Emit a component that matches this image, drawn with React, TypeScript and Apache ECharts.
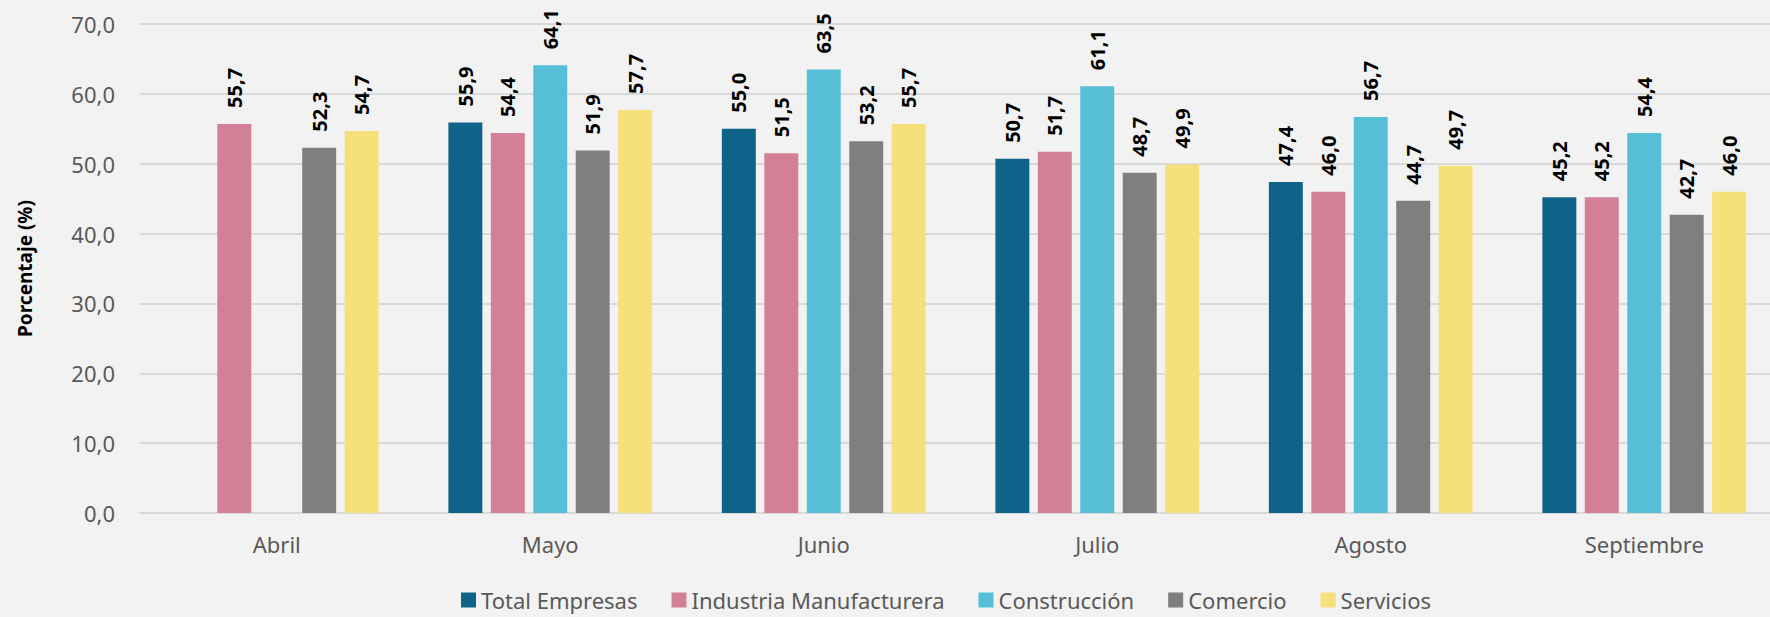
import React, { useEffect, useRef } from "react";
import * as echarts from "echarts";

const categories = ["Abril", "Mayo", "Junio", "Julio", "Agosto", "Septiembre"];
const seriesNames = ["Total Empresas", "Industria Manufacturera", "Construcción", "Comercio", "Servicios"];
const totalEmpresas = [null, 55.9, 55.0, 50.7, 47.4, 45.2];
const industria = [55.7, 54.4, 51.5, 51.7, 46.0, 45.2];
const construccion = [null, 64.1, 63.5, 61.1, 56.7, 54.4];
const comercio = [52.3, 51.9, 53.2, 48.7, 44.7, 42.7];
const servicios = [54.7, 57.7, 55.7, 49.9, 49.7, 46.0];
const colors = ["#106388", "#D47F98", "#56BED6", "#7F7F7F", "#F6E07A"];

const FONT = "'Noto Sans', 'Open Sans', sans-serif";

export default function App() {
  const ref = useRef<HTMLDivElement>(null);
  useEffect(() => {
    if (!ref.current) return;
    const chart = echarts.init(ref.current, null, { renderer: "svg" });
    const dataSets = [totalEmpresas, industria, construccion, comercio, servicios];
    chart.setOption({
      animation: false,
      backgroundColor: "#F2F2F2",
      textStyle: { fontFamily: FONT },
      grid: { left: 140, width: 1641, top: 24, height: 489, outerBoundsMode: "none", containLabel: false },
      legend: {
        top: 584,
        left: 456,
        icon: "rect",
        itemWidth: 15,
        itemHeight: 15,
        itemGap: 34,
        textStyle: { color: "#595959", fontSize: 22, fontFamily: FONT },
        data: seriesNames,
      },
      xAxis: {
        type: "category",
        data: categories,
        axisLine: { lineStyle: { color: "#D9D9D9", width: 2 } },
        axisTick: { show: false },
        axisLabel: { color: "#595959", fontSize: 22, margin: 20, fontFamily: FONT },
      },
      yAxis: {
        type: "value",
        min: 0,
        max: 70,
        interval: 10,
        name: "Porcentaje (%)",
        nameLocation: "middle",
        nameGap: 106,
        nameTextStyle: { color: "#000", fontWeight: "bold", fontSize: 19, fontFamily: FONT },
        axisLine: { show: false },
        axisTick: { show: false },
        splitLine: { lineStyle: { color: "#D9D9D9", width: 2 } },
        axisLabel: {
          color: "#595959",
          fontSize: 22,
          margin: 25,
          fontFamily: FONT,
          formatter: (v: number) => v.toFixed(1).replace(".", ","),
        },
      },
      series: seriesNames.map((name, i) => ({
        name,
        type: "bar",
        data: dataSets[i],
        barGap: "25%",
        barCategoryGap: "25.5%",
        itemStyle: { color: colors[i] },
        label: {
          show: true,
          position: "top",
          rotate: 90,
          align: "left",
          verticalAlign: "middle",
          distance: 16,
          color: "#000",
          fontWeight: "bold",
          fontSize: 20,
          fontFamily: FONT,
          formatter: (p: any) => (p.value == null ? "" : Number(p.value).toFixed(1).replace(".", ",")),
        },
      })),
    });
    return () => chart.dispose();
  }, []);
  return (
    <div
      ref={ref}
      style={{ position: "fixed", left: 0, top: 0, width: 1770, height: 617 }}
    />
  );
}
